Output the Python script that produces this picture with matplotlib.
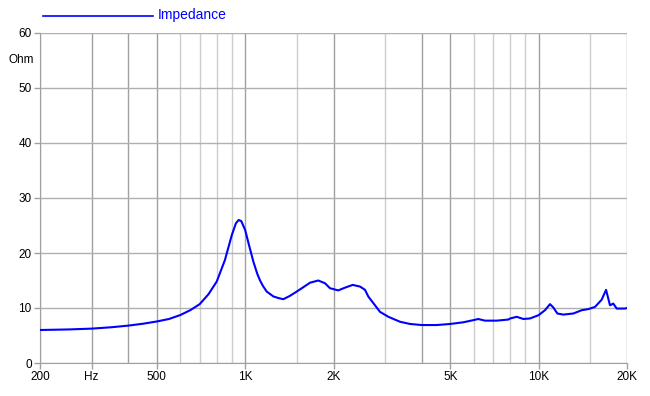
import matplotlib
matplotlib.use("Agg")
import matplotlib.pyplot as plt
import numpy as np

plt.rcParams['font.family'] = ['Liberation Sans', 'DejaVu Sans']

freq = [200, 250, 300, 350, 400, 450, 500, 550, 600, 650, 700, 750, 800, 853, 900, 930,
        950, 970, 1000, 1030, 1067, 1100, 1124, 1150, 1184, 1248, 1300, 1349, 1420, 1500,
        1580, 1664, 1775, 1871, 1945, 2075, 2189, 2325, 2462, 2561, 2627, 2769, 2880, 3076,
        3370, 3644, 4000, 4492, 5000, 5535, 6000, 6227, 6563, 7194, 7882, 8000, 8418, 8870,
        9347, 10000, 10510, 10930, 11220, 11580, 12135, 13130, 14020, 14770, 15560, 16390,
        16970, 17500, 17960, 18450, 19690, 20000]
impedance = [6.0, 6.1, 6.25, 6.5, 6.8, 7.15, 7.55, 8.0, 8.7, 9.6, 10.7, 12.5, 14.8, 18.7, 23.2, 25.4,
             26.0, 25.8, 24.2, 21.5, 18.4, 16.2, 15.0, 14.0, 13.0, 12.1, 11.8, 11.6, 12.2, 13.0,
             13.8, 14.6, 15.0, 14.5, 13.6, 13.2, 13.7, 14.2, 13.9, 13.3, 12.1, 10.5, 9.3, 8.4,
             7.5, 7.1, 6.9, 6.9, 7.1, 7.4, 7.8, 8.0, 7.7, 7.7, 7.9, 8.1, 8.4, 8.0,
             8.1, 8.7, 9.6, 10.7, 10.1, 9.0, 8.8, 9.0, 9.6, 9.8, 10.2, 11.5,
             13.3, 10.5, 10.8, 9.9, 9.9, 10.0]

grid_freqs = [200, 300, 400, 500, 600, 700, 800, 900, 1000, 1500, 2000, 3000, 4000,
              5000, 6000, 7000, 8000, 9000, 10000, 15000, 20000]
dark_freqs = [200, 300, 400, 500, 1000, 2000, 4000, 5000, 10000, 20000]
xtick_pos = [200, 300, 500, 1000, 2000, 5000, 10000, 20000]
xtick_labels = ['200', 'Hz', '500', '1K', '2K', '5K', '10K', '20K']
yticks = [0, 10, 20, 30, 40, 50, 60]

fig = plt.figure(figsize=(6.5, 3.96), dpi=100)
ax = fig.add_axes([40/650, 33/396, (627-40)/650, (363-33)/396])
ax.set_xscale('log')
ax.set_xlim(200, 20000)
ax.set_ylim(0, 60)

for f in grid_freqs:
    c = '#a0a0a0' if f in dark_freqs else '#cccccc'
    ax.axvline(f, color=c, lw=1.0, zorder=1)
for y in yticks:
    ax.axhline(y, color='#b0b0b0', lw=1.0, zorder=1)

ax.plot(freq, impedance, color='#0000ff', lw=1.5, zorder=3)

ax.minorticks_off()
ax.set_xticks(xtick_pos)
ax.set_xticklabels(xtick_labels)
ax.set_yticks(yticks)
ax.tick_params(axis='both', colors='#a0a0a0', labelcolor='black', labelsize=8.5,
               length=4, width=1, pad=2)
for s in ['top', 'right']:
    ax.spines[s].set_visible(False)
for s in ['left', 'bottom']:
    ax.spines[s].set_color('#a0a0a0')

fig.text(34/650, 1 - 60/396, 'Ohm', ha='right', va='center', fontsize=8.5)

fig.add_artist(plt.Line2D([43/650, 153/650], [1 - 16/396, 1 - 16/396],
                          color='#0000ff', lw=1.2, transform=fig.transFigure))
fig.text(158/650, 1 - 15/396, 'Impedance', color='#0000ff', fontsize=10,
         ha='left', va='center')

fig.savefig('out.png', dpi=100)
